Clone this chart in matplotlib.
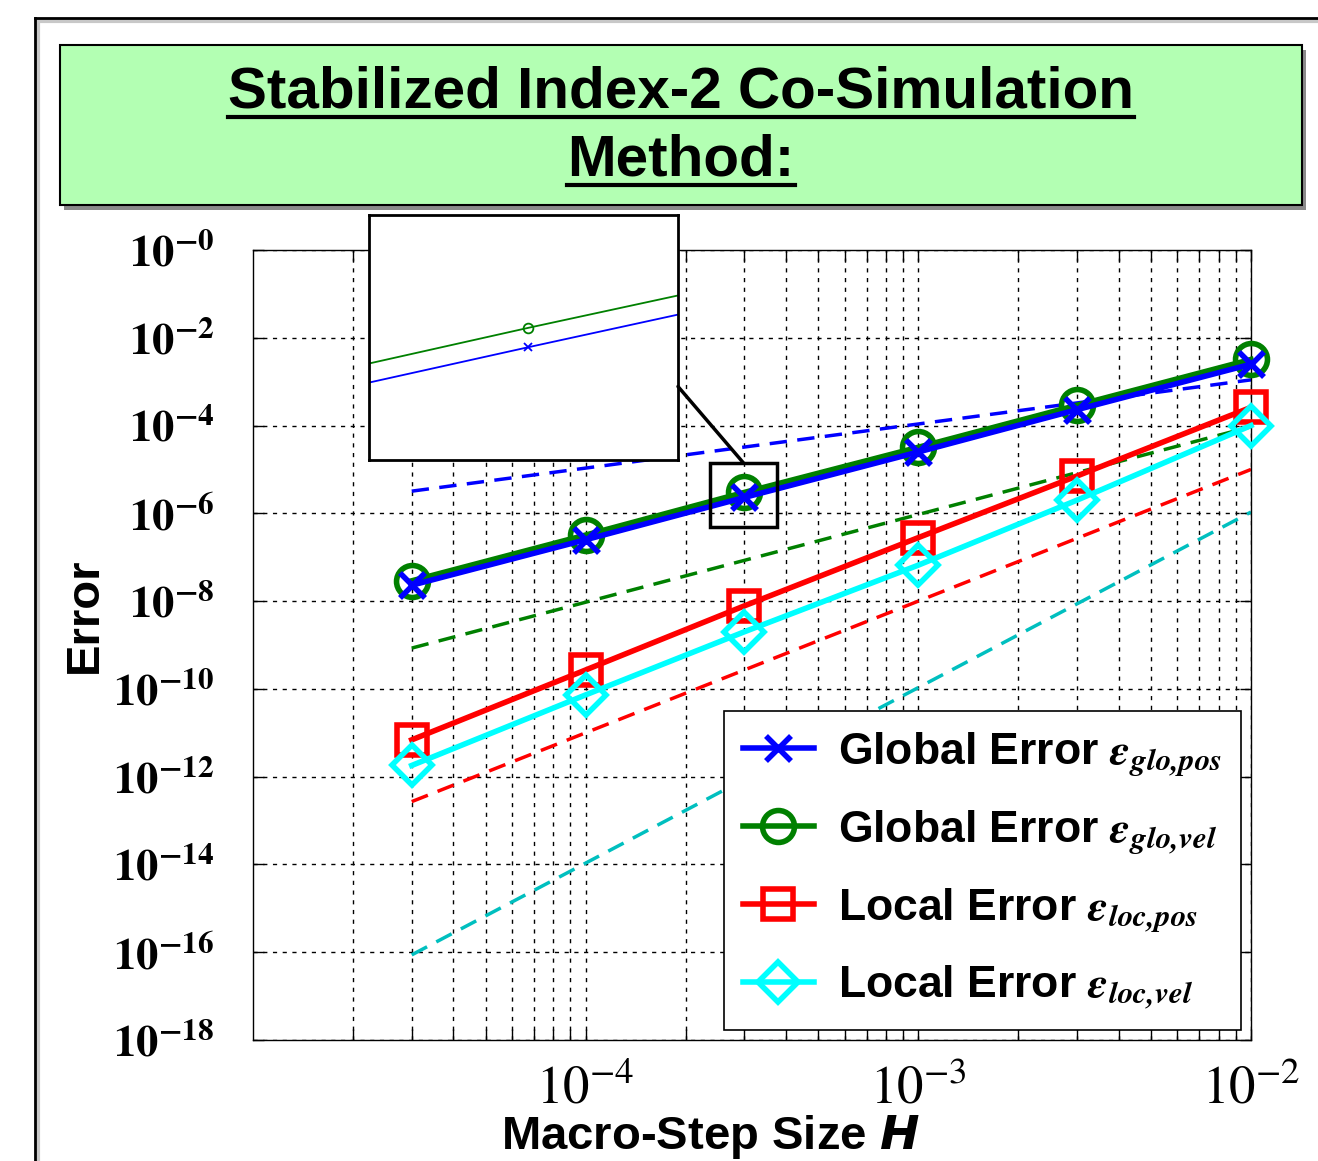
import matplotlib
matplotlib.use('Agg')
import matplotlib.pyplot as plt
from matplotlib.lines import Line2D
from matplotlib.patches import Rectangle, ConnectionPatch
from matplotlib.ticker import FixedLocator, LogLocator, NullFormatter

plt.rcParams['mathtext.fontset'] = 'stix'
plt.rcParams['font.family'] = ['Liberation Sans', 'DejaVu Sans']

# data
H = [3e-5, 1e-4, 3e-4, 1e-3, 3e-3, 1e-2]
glo_pos = [2.3e-8, 2.5e-7, 2.3e-6, 2.5e-5, 2.3e-4, 2.5e-3]
glo_vel = [2.9e-8, 3.2e-7, 3.0e-6, 3.2e-5, 2.9e-4, 3.2e-3]
loc_pos = [6.9e-12, 2.7e-10, 7.8e-9, 2.8e-7, 7.1e-6, 2.6e-4]
loc_vel = [1.8e-12, 7.3e-11, 2.0e-9, 6.6e-8, 2.0e-6, 1.0e-4]

# order reference lines (end points)
ref_H = [3e-5, 1e-2]
ref_o1 = [3.2e-6, 1.1e-3]
ref_o2 = [8.5e-10, 9.4e-5]
ref_o3 = [2.7e-13, 1.0e-5]
ref_o4 = [8.7e-17, 1.07e-6]

ytick_vals = [1e0, 1e-2, 1e-4, 1e-6, 1e-8, 1e-10, 1e-12, 1e-14, 1e-16, 1e-18]
ytick_lbls = [r'$\mathbf{10^{-%d}}$' % k for k in range(0, 20, 2)]
xtick_vals = [1e-4, 1e-3, 1e-2]
xtick_lbls = [r'$10^{-4}$', r'$10^{-3}$', r'$10^{-2}$']

labels = [r'Global Error $\mathbfit{\varepsilon}_{\mathbfit{glo{,}pos}}$',
          r'Global Error $\mathbfit{\varepsilon}_{\mathbfit{glo{,}vel}}$',
          r'Local Error $\mathbfit{\varepsilon}_{\mathbfit{loc{,}pos}}$',
          r'Local Error $\mathbfit{\varepsilon}_{\mathbfit{loc{,}vel}}$']

W, Hpx = 1318, 1161
fig = plt.figure(figsize=(W / 100, Hpx / 100), dpi=100)

# outer frame
fig.add_artist(Line2D([38 / W, 38 / W], [0, 1 - 21 / Hpx], color='#c8c8c8', lw=3))
fig.add_artist(Line2D([38 / W, 1], [1 - 21 / Hpx, 1 - 21 / Hpx], color='#c8c8c8', lw=3))
fig.add_artist(Line2D([35 / W, 35 / W], [0, 1 - 18 / Hpx], color='black', lw=2))
fig.add_artist(Line2D([35 / W, 1], [1 - 18 / Hpx, 1 - 18 / Hpx], color='black', lw=2))

# title box
fig.add_artist(Rectangle((64 / W, 1 - 210 / Hpx), 1242 / W, 160 / Hpx,
                         transform=fig.transFigure, facecolor='#8a8a8a', edgecolor='none'))
fig.add_artist(Rectangle((60 / W, 1 - 205 / Hpx), 1242 / W, 160 / Hpx,
                         transform=fig.transFigure, facecolor='#b3ffb3', edgecolor='black', lw=1.5))
t1 = fig.text(681 / W, 1 - 92 / Hpx, 'Stabilized Index-2 Co-Simulation', ha='center', va='center',
              fontsize=42, fontweight='bold')
t2 = fig.text(681 / W, 1 - 160 / Hpx, 'Method:', ha='center', va='center',
              fontsize=42, fontweight='bold')

ax = fig.add_axes([253 / W, 1 - 1040 / Hpx, 998 / W, 790 / Hpx])
ax.set_xscale('log')
ax.set_yscale('log')
ax.set_xlim(1e-5, 1e-2)
ax.set_ylim(1e-18, 1e0)

ax.plot(ref_H, ref_o1, '--', color='blue', lw=2.5, dashes=(5, 3))
ax.plot(ref_H, ref_o2, '--', color=(0, 0.5, 0), lw=2.5, dashes=(5, 3))
ax.plot(ref_H, ref_o3, '--', color='red', lw=2.5, dashes=(5, 3))
ax.plot(ref_H, ref_o4, '--', color=(0, 0.75, 0.75), lw=2.5, dashes=(5, 3))

ax.plot(H, glo_pos, '-x', color='blue', lw=4, ms=18, mew=4, clip_on=False, label=labels[0], zorder=5)
ax.plot(H, glo_vel, '-o', color=(0, 0.5, 0), lw=4, ms=23, mew=4, mfc='none', clip_on=False,
        label=labels[1], zorder=4)
ax.plot(H, loc_pos, '-s', color='red', lw=4, ms=22, mew=4, mfc='none', clip_on=False,
        label=labels[2], zorder=4)
ax.plot(H, loc_vel, '-D', color='cyan', lw=4, ms=20, mew=4, mfc='none', clip_on=False,
        label=labels[3], zorder=5)

ax.yaxis.set_major_locator(FixedLocator(ytick_vals))
ax.yaxis.set_minor_locator(FixedLocator([]))
ax.set_yticklabels(ytick_lbls, fontsize=32)
ax.xaxis.set_major_locator(FixedLocator(xtick_vals))
ax.xaxis.set_minor_locator(LogLocator(base=10, subs=range(2, 10)))
ax.xaxis.set_minor_formatter(NullFormatter())
ax.set_xticklabels(xtick_lbls, fontsize=38)
ax.tick_params(which='both', direction='in', top=True, right=True, length=8, width=1)
ax.tick_params(axis='y', pad=28)
ax.tick_params(axis='x', pad=18)
ax.grid(True, which='major', axis='both', color='black', ls=(0, (3, 4)), lw=1)
ax.grid(True, which='minor', axis='x', color='black', ls=(0, (3, 4)), lw=1)
for s in ax.spines.values():
    s.set_linewidth(1)

leg = ax.legend(loc='lower right', bbox_to_anchor=(0.990, 0.0127), borderaxespad=0, fontsize=32,
                frameon=True, fancybox=False, edgecolor='black', framealpha=1,
                handlelength=1.6, handletextpad=0.55, labelspacing=0.68, borderpad=0.42)
for txt in leg.get_texts():
    txt.set_fontweight('bold')
leg.get_frame().set_linewidth(1.2)

# zoom box and inset
zx0, zx1 = 2.36e-4, 3.76e-4
zy0, zy1 = 4.9e-7, 1.41e-5
ax.add_patch(Rectangle((zx0, zy0), zx1 - zx0, zy1 - zy0, fill=False, edgecolor='black', lw=2.5,
                       zorder=6))

axins = fig.add_axes([369 / W, 1 - 460 / Hpx, 309 / W, 245 / Hpx])
axins.set_xscale('log')
axins.set_yscale('log')
axins.plot(H, glo_pos, '-x', color='blue', lw=1.3, ms=6, mew=1.3)
axins.plot(H, glo_vel, '-o', color='green', lw=1.3, ms=7, mew=1.3, mfc='none')
axins.set_xlim(zx0, zx1)
axins.set_ylim(zy0, zy1)
axins.set_xticks([])
axins.set_yticks([])
axins.minorticks_off()
for s in axins.spines.values():
    s.set_linewidth(2)

con = ConnectionPatch(xyA=(1.0, 0.30), coordsA=axins.transAxes,
                      xyB=(2.98e-4, zy1), coordsB=ax.transData, color='black', lw=2.5)
fig.add_artist(con)

fig.text(85 / W, 1 - 615 / Hpx, 'Error', rotation=90, ha='center', va='center',
         fontsize=34, fontweight='bold')
fig.text(710 / W, 1 - 1137 / Hpx, r'Macro-Step Size $\mathbfit{H}$', ha='center', va='center',
         fontsize=34, fontweight='bold', math_fontfamily='dejavusans')

# underline title
fig.canvas.draw()
r = fig.canvas.get_renderer()
for t in (t1, t2):
    bb = t.get_window_extent(r)
    yy = bb.y0 + 2
    fig.add_artist(Line2D([bb.x0 / W, bb.x1 / W], [yy / Hpx, yy / Hpx], color='black', lw=3))

fig.savefig('out.png', dpi=100)
